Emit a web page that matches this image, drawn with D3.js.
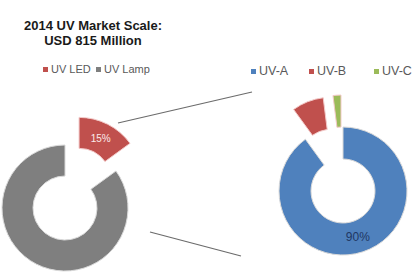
<!DOCTYPE html>
<html>
<head>
<meta charset="utf-8">
<script src="https://cdn.jsdelivr.net/npm/d3@7"></script>
<style>
body { margin: 0; background: #fff; }
text { font-family: "Liberation Sans", Arial, sans-serif; }
</style>
</head>
<body>
<div id="chart"></div>
<script>
// market split (left) and UV LED split by wavelength (right)
var marketLabels = ["UV LED", "UV Lamp"];
var marketValues = [15, 85];
var ledLabels = ["UV-A", "UV-B", "UV-C"];
var ledValues = [90, 8, 2];
var titleLines = ["2014 UV Market Scale:", "USD 815 Million"];

var size = { width: 418, height: 278 };

var marketColor = d3.scaleOrdinal().domain(marketLabels).range(["#c0504d", "#7f7f7f"]);
var ledColor = d3.scaleOrdinal().domain(ledLabels).range(["#4f81bd", "#c0504d", "#9bbb59"]);

var svg = d3.select("#chart").append("svg")
	.attr("width", size.width)
	.attr("height", size.height)
	.style("background", "#fff");

// title
svg.append("g").selectAll("text")
	.data(titleLines)
	.enter()
	.append("text")
	.attr("x", 93)
	.attr("y", function(d, i) { return 30 + i * 15; })
	.attr("text-anchor", "middle")
	.style("font-weight", "bold")
	.style("font-size", "13px")
	.style("fill", "#1a1a1a")
	.text(function(d) { return d; });

// connecting lines between the two donuts
svg.append("line")
	.attr("x1", 118).attr("y1", 123).attr("x2", 252).attr("y2", 92)
	.style("stroke", "#6b6b6b").style("stroke-width", 1.2);
svg.append("line")
	.attr("x1", 150).attr("y1", 232).attr("x2", 241).attr("y2", 256)
	.style("stroke", "#6b6b6b").style("stroke-width", 1.2);

var pie = d3.pie().sort(null).value(function(d) { return d.value; });

function drawDonut(cx, cy, outer, inner, shift, labels, values, color, labelIndex, labelColor) {
	var arc = d3.arc().innerRadius(inner).outerRadius(outer);
	var data = labels.map(function(l, i) { return { label: l, value: values[i] }; });
	var arcs = pie(data);
	// biggest slice stays in place, the others are pulled out
	var maxVal = d3.max(values);

	var g = svg.append("g").attr("transform", "translate(" + cx + "," + cy + ")");

	var slice = g.selectAll("g.slice")
		.data(arcs)
		.enter()
		.append("g")
		.attr("class", "slice")
		.attr("transform", function(d) {
			if (d.data.value == maxVal) return null;
			var mid = (d.startAngle + d.endAngle) / 2;
			return "translate(" + (shift * Math.sin(mid)) + "," + (-shift * Math.cos(mid)) + ")";
		});

	slice.append("path")
		.attr("d", arc)
		.attr("fill", function(d) { return color(d.data.label); })
		.style("stroke", function(d) { return d.data.value == maxVal ? "#d9d9d9" : "#f3c9c8"; })
		.style("stroke-width", 1);

	slice.filter(function(d, i) { return i == labelIndex; })
		.append("text")
		.attr("transform", function(d) { return "translate(" + arc.centroid(d) + ")"; })
		.attr("dy", "0.35em")
		.attr("text-anchor", "middle")
		.style("font-size", labelIndex == 0 && labels.length == 2 ? "10px" : "12px")
		.style("fill", labelColor)
		.text(function(d) { return d.data.value + "%"; });
}

drawDonut(65, 208, 63, 32, 31, marketLabels, marketValues, marketColor, 0, "#fbe9e9");
drawDonut(343, 191, 64, 32, 32, ledLabels, ledValues, ledColor, 0, "#1f3864");

// legends
function drawLegend(items, xs, y, color, fontSize) {
	var lg = svg.append("g");
	items.forEach(function(item, i) {
		lg.append("rect")
			.attr("x", xs[i])
			.attr("y", y - 6)
			.attr("width", 5)
			.attr("height", 5)
			.attr("fill", color(item));
		lg.append("text")
			.attr("x", xs[i] + 8)
			.attr("y", y)
			.style("font-size", fontSize)
			.style("fill", "#595959")
			.text(item);
	});
}

drawLegend(marketLabels, [43, 96], 73, marketColor, "11px");
drawLegend(ledLabels, [251, 309, 374], 75, ledColor, "12.5px");
</script>
</body>
</html>
